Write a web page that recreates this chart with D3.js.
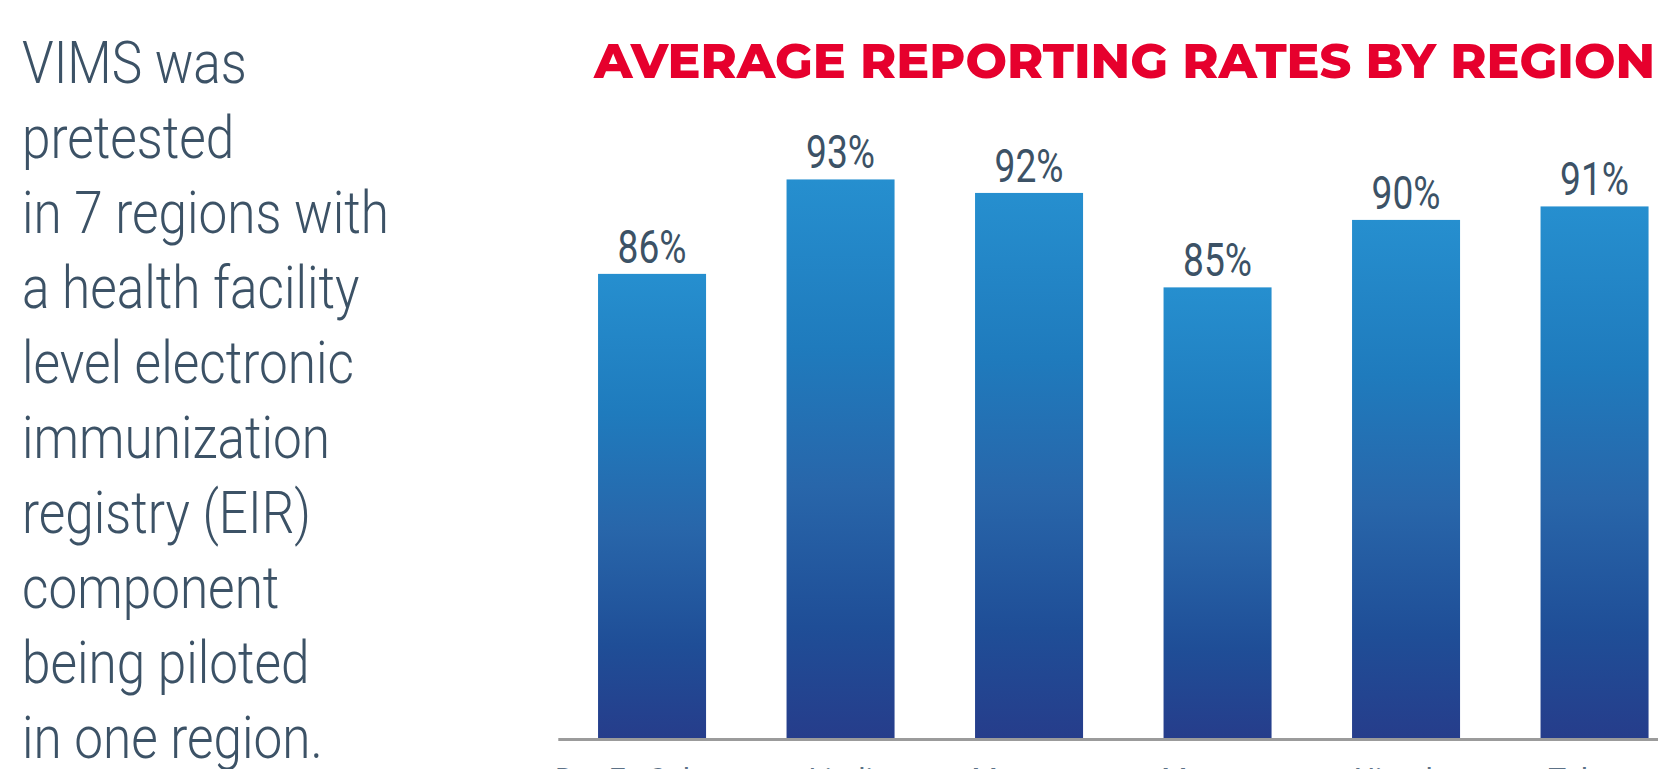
<!DOCTYPE html>
<html>
<head>
<meta charset="utf-8">
<script src="https://cdn.jsdelivr.net/npm/d3@7"></script>
<style>
  html, body { margin: 0; padding: 0; background: #fff; overflow: hidden; }
</style>
</head>
<body>
<div id="vizcontainer"></div>
<script>
const
  width = 1658,
  height = 769
  ;

const regions = ['Dar Es Salaam', 'Lindi', 'Manyara', 'Mwanza', 'Njombe', 'Tabora'];
const rates = [86, 93, 92, 85, 90, 91];
const introLines = [
  'VIMS was',
  'pretested',
  'in 7 regions with',
  'a health facility',
  'level electronic',
  'immunization',
  'registry (EIR)',
  'component',
  'being piloted',
  'in one region.'
];
const titleText = 'AVERAGE REPORTING RATES BY REGION';

const textColor = '#3c5266';
const baseY = 738;

let xScale = d3.scaleBand()
  .domain(regions)
  .range([557.8, 1688.8])
  .paddingInner(0.427)
  .paddingOuter(0.2135);

// bars don't start at zero in the original, axis floor sits around 51.6
let yScale = d3.scaleLinear()
  .domain([51.6, 100])
  .range([baseY, 85]);

let viz = d3.select('#vizcontainer')
  .append('svg')
  .attr('width', width)
  .attr('height', height);

let grad = viz.append('defs')
  .append('linearGradient')
  .attr('id', 'barGrad')
  .attr('x1', 0).attr('y1', 0)
  .attr('x2', 0).attr('y2', 1);

grad.selectAll('stop')
  .data([
    [0, '#268fcf'],
    [0.3, '#1f7bbd'],
    [0.55, '#2866aa'],
    [0.8, '#1f4e97'],
    [1, '#263d8b']
  ])
  .join('stop')
  .attr('offset', d => d[0])
  .attr('stop-color', d => d[1]);

// left intro text, condensed light
let intro = viz.append('g');
intro.selectAll('text')
  .data(introLines)
  .join('text')
  .attr('font-family', 'Roboto, sans-serif')
  .attr('font-weight', 300)
  .attr('font-size', 60)
  .attr('fill', textColor)
  .text(d => d);

let widest = intro.selectAll('text').nodes()[2].getComputedTextLength();
let introK = 367 / widest;
intro.selectAll('text')
  .attr('transform', (d, i) => `translate(22,${83 + i * 75}) scale(${introK},1)`);

// title
viz.append('text')
  .attr('x', 594)
  .attr('y', 78)
  .attr('font-family', 'Montserrat, Inter, sans-serif')
  .attr('font-weight', 800)
  .attr('font-size', 49)
  .attr('fill', '#e6002d')
  .attr('textLength', 1061)
  .attr('lengthAdjust', 'spacingAndGlyphs')
  .text(titleText);

// bars
viz.append('g')
  .selectAll('rect')
  .data(rates)
  .join('rect')
  .attr('x', (d, i) => xScale(regions[i]))
  .attr('y', d => yScale(d))
  .attr('width', xScale.bandwidth())
  .attr('height', d => baseY - yScale(d))
  .attr('fill', 'url(#barGrad)');

// value labels
let labels = viz.append('g')
  .selectAll('text')
  .data(rates)
  .join('text')
  .attr('text-anchor', 'middle')
  .attr('font-family', 'Roboto, sans-serif')
  .attr('font-weight', 400)
  .attr('font-size', 46)
  .attr('fill', textColor)
  .text(d => d + '%');

let labelK = 69 / labels.nodes()[0].getComputedTextLength();
labels.attr('transform', (d, i) =>
  `translate(${xScale(regions[i]) + xScale.bandwidth() / 2},${yScale(d) - 11}) scale(${labelK},1)`);

// axis, names mostly fall below the frame
let axis = viz.append('g')
  .attr('transform', `translate(0,${baseY + 1})`)
  .call(d3.axisBottom(xScale).tickSize(0).tickSizeOuter(0).tickPadding(29));

axis.select('.domain')
  .attr('stroke', '#9b9b9b')
  .attr('stroke-width', 3);

axis.selectAll('text')
  .attr('font-family', 'Roboto, sans-serif')
  .attr('font-size', 30)
  .attr('fill', '#5d7186');
</script>
</body>
</html>
